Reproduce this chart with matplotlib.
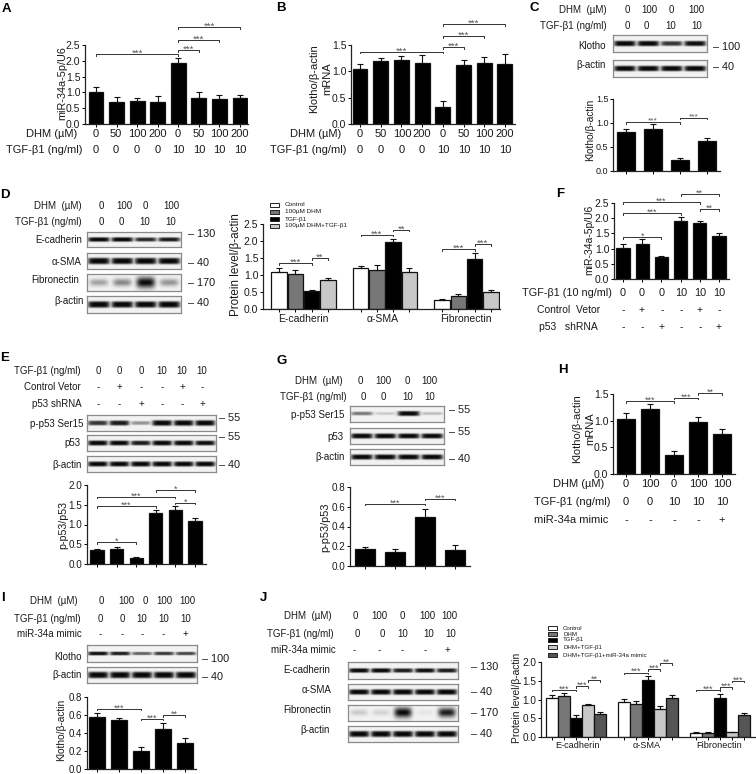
import numpy as np
import matplotlib
matplotlib.use('Agg')
import matplotlib.pyplot as plt
from matplotlib.patches import Rectangle

plt.rcParams['font.family'] = ['Liberation Sans', 'DejaVu Sans']

W = 756
H = 774

# bar values
a_vals = [1.0, 0.7, 0.72, 0.69, 1.92, 0.81, 0.8, 0.82]
a_errs = [0.16, 0.17, 0.11, 0.2, 0.17, 0.2, 0.11, 0.11]
b_vals = [1.05, 1.19, 1.22, 1.16, 0.33, 1.12, 1.15, 1.13]
b_errs = [0.09, 0.07, 0.08, 0.15, 0.1, 0.1, 0.13, 0.19]
c_vals = [0.82, 0.88, 0.22, 0.62]
c_errs = [0.05, 0.1, 0.06, 0.07]
d_vals = [1.08, 1.03, 0.52, 0.85, 1.22, 1.15, 1.97, 1.08, 0.26, 0.39, 1.48, 0.5]
d_errs = [0.12, 0.12, 0.03, 0.05, 0.05, 0.13, 0.1, 0.13, 0.03, 0.06, 0.17, 0.05]
e_vals = [0.35, 0.39, 0.15, 1.28, 1.37, 1.08]
e_errs = [0.02, 0.04, 0.02, 0.09, 0.1, 0.08]
f_vals = [1.02, 1.15, 0.72, 1.9, 1.84, 1.4]
f_errs = [0.13, 0.15, 0.04, 0.15, 0.06, 0.1]
g_vals = [0.17, 0.14, 0.5, 0.16]
g_errs = [0.02, 0.03, 0.08, 0.05]
h_vals = [1.03, 1.21, 0.35, 0.97, 0.75]
h_errs = [0.12, 0.1, 0.09, 0.09, 0.1]
i_vals = [0.58, 0.55, 0.2, 0.44, 0.29]
i_errs = [0.04, 0.02, 0.04, 0.07, 0.05]
j_vals = [1.05, 1.09, 0.5, 0.85, 0.62, 0.94, 0.88, 1.51, 0.76, 1.04, 0.12, 0.12, 1.05, 0.13, 0.58]
j_errs = [0.06, 0.08, 0.08, 0.02, 0.05, 0.08, 0.07, 0.12, 0.06, 0.08, 0.01, 0.01, 0.09, 0.01, 0.05]

# significance brackets: first bar, last bar, height, stars
a_sig = [(0, 4, 2.2, '***'), (4, 5, 2.34, '***'), (4, 6, 2.66, '***'), (4, 7, 3.07, '***')]
b_sig = [(0, 4, 1.37, '***'), (4, 5, 1.46, '***'), (4, 6, 1.67, '***'), (4, 7, 1.89, '***')]
c_sig = [(0, 2, 1.02, '***'), (2, 3, 1.11, '***')]
d_sig = [(0, 2, 1.35, '***'), (2, 3, 1.5, '**'), (5, 7, 2.19, '***'), (7, 8, 2.33, '**'),
         (10, 12, 1.76, '***'), (12, 13, 1.91, '***')]
e_sig = [(0, 2, 0.55, '*'), (0, 3, 1.47, '***'), (0, 4, 1.7, '***'), (3, 5, 1.87, '*'), (4, 5, 1.55, '*')]
f_sig = [(0, 2, 1.37, '*'), (0, 3, 2.17, '***'), (0, 4, 2.52, '***'), (3, 5, 2.79, '**'), (4, 5, 2.3, '**')]
g_sig = [(0, 2, 0.63, '***'), (2, 3, 0.68, '***')]
h_sig = [(0, 2, 1.36, '***'), (2, 3, 1.43, '***'), (3, 4, 1.51, '**')]
i_sig = [(0, 2, 0.67, '***'), (2, 3, 0.56, '***'), (3, 4, 0.6, '**')]
j_sig = [(0, 2, 1.26, '***'), (2, 3, 1.35, '***'), (3, 4, 1.52, '**'),
         (6, 8, 1.72, '***'), (8, 9, 1.81, '***'), (9, 10, 1.97, '**'),
         (12, 14, 1.26, '***'), (14, 15, 1.33, '***'), (15, 16, 1.5, '***')]

# label rows
dhm_long = ['0', '50', '100', '200', '0', '50', '100', '200']
tgf_long = ['0', '0', '0', '0', '10', '10', '10', '10']
dhm_4 = ['0', '100', '0', '100']
tgf_4 = ['0', '0', '10', '10']
tgf_6 = ['0', '0', '0', '10', '10', '10']
vec_6 = ['-', '+', '-', '-', '+', '-']
sh_6 = ['-', '-', '+', '-', '-', '+']
dhm_5 = ['0', '100', '0', '100', '100']
tgf_5 = ['0', '0', '10', '10', '10']
mim_5 = ['-', '-', '-', '-', '+']
groups = ['E-cadherin', 'α-SMA', 'Fibronectin']
d_legend = ['Control', '100µM DHM', 'TGF-β1', '100µM DHM+TGF-β1']
j_legend = ['Control', 'DHM', 'TGF-β1', 'DHM+TGF-β1', 'DHM+TGF-β1+miR-34a mimic']
d_colors = ['white', '#777777', 'black', '#c8c8c8']
j_colors = ['white', '#777777', 'black', '#c8c8c8', '#555555']

# blot band strength per lane
c_klotho = [0.95, 0.9, 0.7, 0.85]
c_actin = [0.95, 0.95, 0.95, 0.95]
d_ecad = [0.9, 0.9, 0.75, 0.8]
d_sma = [1.0, 0.95, 1.0, 0.95]
d_fib = [0.3, 0.4, 1.0, 0.35]
d_actin = [1.0, 0.95, 0.95, 1.0]
e_pp53 = [0.7, 0.8, 0.35, 1.0, 1.0, 1.0]
e_p53 = [0.95, 0.9, 0.8, 0.95, 0.95, 0.85]
e_actin = [0.95, 0.95, 1.0, 1.0, 0.95, 0.95]
g_pp53 = [0.45, 0.15, 0.95, 0.2]
g_p53 = [1.0, 0.95, 0.95, 0.95]
g_actin = [1.0, 1.0, 1.0, 1.0]
i_klotho = [0.85, 0.8, 0.55, 0.7, 0.65]
i_actin = [1.0, 1.0, 1.0, 1.0, 1.0]
j_ecad = [0.9, 0.9, 0.8, 0.85, 0.8]
j_sma = [0.9, 0.95, 1.0, 0.95, 1.0]
j_fib = [0.15, 0.12, 1.0, 0.05, 0.8]
j_actin = [1.0, 1.0, 1.0, 1.0, 1.0]

fig = plt.figure(figsize=(W / 100, H / 100), dpi=100)
over = fig.add_axes([0, 0, 1, 1], zorder=5)
over.set_xlim(0, W)
over.set_ylim(H, 0)
over.axis('off')


def txt(x, y, s, ha='center', size=7, **kw):
    over.text(x, y, s, ha=ha, va='center', fontsize=size, color=kw.pop('color', '#1a1a1a'), **kw)


def row(label, right, y, xs, vals, size=7):
    txt(right, y, label, ha='right', size=size)
    for x, v in zip(xs, vals):
        txt(x, y, v, size=size)


def bars(box, x0, step, vals, errs, ymax, yticks, sig, pos=None, colors=None, bar_w=0.72,
         tick=7.5, star=6.8):
    # box is left, right, top, bottom in pixels
    l, r, t, b = box
    ax = fig.add_axes([l / W, 1 - b / H, (r - l) / W, (b - t) / H], facecolor='none')
    if pos is None:
        pos = np.arange(len(vals))
    ax.set_xlim((l - x0) / step, (r - x0) / step)
    ax.set_ylim(0, ymax)
    cols = colors if colors else ['black'] * len(vals)
    ax.bar(pos, vals, bar_w, color=cols, edgecolor='#111111', linewidth=0.9,
           yerr=[np.zeros(len(errs)), errs],
           error_kw=dict(ecolor='#111111', elinewidth=0.8, capsize=2.4, capthick=0.8))
    for s in ['top', 'right']:
        ax.spines[s].set_visible(False)
    for s in ['left', 'bottom']:
        ax.spines[s].set_linewidth(0.9)
        ax.spines[s].set_color('#222222')
    ax.set_yticks(yticks)
    ax.set_yticklabels(['%.1f' % v for v in yticks], fontsize=tick, color='#1a1a1a')
    ax.tick_params(axis='y', length=2.5, width=0.7, pad=0.8)
    ax.set_xticks(pos)
    ax.set_xticklabels([])
    ax.tick_params(axis='x', length=2, width=0.7)
    d = 1.6 * ymax / (b - t)
    # bars are indexed in layout slots, so gaps between groups count
    for xa, xb, h, s in sig:
        ax.plot([xa, xa, xb, xb], [h - d, h, h, h - d], color='#333333', lw=0.7, clip_on=False)
        ax.text((xa + xb) / 2, h + 0.5 * d, s, ha='center', va='center', fontsize=star,
                color='#555555', clip_on=False)
    return ax


def blot(box, levels, sigma=2.6, soft=False):
    l, r, t, b = box
    ax = fig.add_axes([l / W, 1 - b / H, (r - l) / W, (b - t) / H])
    nx = (r - l) * 3
    ny = (b - t) * 3
    xx, yy = np.meshgrid(np.linspace(0, 1, nx), np.linspace(0, 1, ny))
    n = len(levels)
    dark = np.zeros((ny, nx))
    for k, lv in enumerate(levels):
        cx = (k + 0.5) / n
        wx = 0.47 / n
        sy = sigma * (0.55 + 0.55 * lv) / (b - t)
        if soft:
            shape = np.exp(-((xx - cx) / (wx * 0.85)) ** 4) * np.exp(-((yy - 0.5) / sy) ** 2)
        else:
            shape = np.exp(-((xx - cx) / wx) ** 6) * np.exp(-((yy - 0.5) / sy) ** 4)
        dark = np.maximum(dark, shape * min(1, lv * 1.15))
    img = 0.95 * (1 - dark) + 0.03 * dark
    ax.imshow(img, cmap='gray', vmin=0, vmax=1, aspect='auto', interpolation='bilinear')
    ax.set_xticks([])
    ax.set_yticks([])
    for s in ax.spines.values():
        s.set_color('#8a8a8a')
        s.set_linewidth(0.9)


def mw(x, y, s, size=7.8):
    txt(x, y, '– ' + s, ha='left', size=size)


def legend(x, ys, names, colors, size=4.6):
    for y, n, c in zip(ys, names, colors):
        over.add_patch(Rectangle((x, y - 2.2), 9, 4.4, facecolor=c, edgecolor='#222222', lw=0.7))
        txt(x + 15, y, n, ha='left', size=size)


# panel letters
for s, x, y in [('A', 6, 9), ('B', 281, 8), ('C', 534, 8), ('D', 5, 195), ('E', 5, 358),
                ('F', 560, 194), ('G', 282, 361), ('H', 563, 370), ('I', 3, 598), ('J', 263, 598)]:
    txt(x, y, s, size=9.5, fontweight='bold', color='black')

# A
a_x = [96, 116, 137, 158, 178, 199, 219, 240]
bars((85, 248, 45, 124), 96, 20.57, a_vals, a_errs, 2.5, [0, 0.5, 1, 1.5, 2, 2.5], a_sig)
row('DHM (µM)', 77, 134, a_x, dhm_long, size=8)
row('TGF-β1 (ng/ml)', 82, 150, a_x, tgf_long, size=8)
txt(62, 83, 'miR-34a-5p/U6', size=7.8, rotation=90)

# B
b_x = [360, 381, 402, 422, 443, 464, 484, 505]
bars((351, 515, 45, 124), 360, 20.7, b_vals, b_errs, 1.5, [0, 0.5, 1, 1.5], b_sig)
row('DHM (µM)', 341, 134, b_x, dhm_long, size=8)
row('TGF-β1 (ng/ml)', 347, 150, b_x, tgf_long, size=8)
txt(314, 79, 'Klotho/β-actin', size=8, rotation=90)
txt(327, 79, 'mRNA', size=8, rotation=90)

# C
row('DHM  (µM)', 607, 10, [627, 649, 671, 696], dhm_4)
row('TGF-β1 (ng/ml)', 607, 26, [627, 646, 671, 697], tgf_4)
blot((613, 707, 35, 52), c_klotho)
blot((613, 707, 60, 77), c_actin)
txt(606, 46, 'Klotho', ha='right')
txt(606, 65, 'β-actin', ha='right')
mw(713, 47, '100')
mw(713, 67, '40')
bars((613, 720, 99, 171), 626, 27, c_vals, c_errs, 1.5, [0, 0.5, 1, 1.5], c_sig, bar_w=0.66, tick=6.5, star=6)
txt(590, 130, 'Klotho/β-actin', size=7.3, rotation=90)

# D
row('DHM  (µM)', 82, 206, [101, 124, 145, 171], dhm_4)
row('TGF-β1 (ng/ml)', 82, 222, [101, 121, 145, 171], tgf_4)
blot((87, 181, 232, 247), d_ecad, sigma=2.2)
blot((87, 181, 253, 269), d_sma, sigma=3.0)
blot((87, 181, 274, 291), d_fib, sigma=5.0, soft=True)
blot((87, 181, 296, 313), d_actin, sigma=3.0)
txt(82, 240, 'E-cadherin', ha='right')
txt(82, 262, 'α-SMA', ha='right')
txt(79, 280, 'Fibronectin', ha='right')
txt(84, 301, 'β-actin', ha='right')
mw(188, 234, '130')
mw(188, 263, '40')
mw(188, 283, '170')
mw(188, 303, '40')
d_pos = [g * 5 + k for g in range(3) for k in range(4)]
bars((263, 500, 224, 309), 279, 16.3, d_vals, d_errs, 2.5, [0, 0.5, 1, 1.5, 2, 2.5], d_sig, pos=d_pos,
     colors=d_colors * 3, bar_w=0.95)
txt(236, 265, 'Protein level/β-actin', size=8.4, rotation=90)
for s, x in zip(groups, [303, 383, 466]):
    txt(x, 319, s, size=7.5)
legend(270, [205, 212, 219, 226], d_legend, d_colors)

# E
e_x = [98, 119, 141, 162, 182, 202]
row('TGF-β1 (ng/ml)', 81, 371, e_x, tgf_6)
row('Control Vetor', 81, 387, e_x, vec_6)
row('p53 shRNA', 82, 404, e_x, sh_6)
blot((87, 216, 415, 431), e_pp53)
blot((87, 216, 435, 451), e_p53, sigma=2.4)
blot((87, 216, 456, 472), e_actin, sigma=2.4)
txt(83, 424, 'p-p53 Ser15', ha='right')
txt(81, 443, 'p53', ha='right')
txt(82, 465, 'β-actin', ha='right')
mw(219, 418, '55')
mw(219, 437, '55')
mw(219, 465, '40')
bars((87, 206, 485, 564), 97, 19.6, e_vals, e_errs, 2.0, [0, 0.5, 1, 1.5, 2], e_sig, bar_w=0.68, tick=7.1, star=6.5)
txt(63, 525, 'p-p53/p53', size=7.7, rotation=90)

# F
f_x = [623, 642, 662, 681, 700, 719]
bars((614, 729, 203, 279), 623, 19.2, f_vals, f_errs, 2.5, [0, 0.5, 1, 1.5, 2, 2.5], f_sig, bar_w=0.68, star=6.5)
row('TGF-β1 (10 ng/ml)', 612, 293, f_x, tgf_6, size=7.8)
row('Control  Vetor', 600, 310, f_x, vec_6, size=7.5)
row('p53   shRNA', 598, 327, f_x, sh_6, size=7.5)
txt(589, 240, 'miR-34a-5p/U6', size=7.5, rotation=90)

# G
row('DHM  (µM)', 343, 381, [360, 383, 407, 429], dhm_4)
row('TGF-β1 (ng/ml)', 347, 397, [363, 383, 408, 430], tgf_4)
blot((350, 444, 406, 422), g_pp53, sigma=2.2)
blot((350, 444, 428, 444), g_p53, sigma=2.4)
blot((350, 444, 449, 465), g_actin, sigma=2.4)
txt(344, 415, 'p-p53 Ser15', ha='right')
txt(344, 437, 'p53', ha='right')
txt(345, 457, 'β-actin', ha='right')
mw(449, 410, '55')
mw(449, 432, '55')
mw(449, 459, '40')
bars((350, 470, 487, 566), 365, 30, g_vals, g_errs, 0.8, [0, 0.2, 0.4, 0.6, 0.8], g_sig, bar_w=0.66, tick=7.1, star=6.5)
txt(325, 527, 'p-p53/p53', size=7.8, rotation=90)

# H
h_x = [626, 650, 674, 698, 722]
bars((613, 735, 394, 474), 626, 24, h_vals, h_errs, 1.5, [0, 0.5, 1, 1.5], h_sig, star=6.5)
row('DHM (µM)', 604, 484, h_x, dhm_5, size=8)
row('TGF-β1 (ng/ml)', 611, 502, h_x, tgf_5, size=8)
row('miR-34a mimic', 608, 520, h_x, mim_5, size=8)
txt(577, 429, 'Klotho/β-actin', size=8, rotation=90)
txt(590, 429, 'mRNA', size=8, rotation=90)

# I
row('DHM  (µM)', 78, 601, [101, 126, 145, 164, 187], dhm_5)
row('TGF-β1 (ng/ml)', 81, 619, [100, 122, 142, 164, 186], tgf_5)
row('miR-34a mimic', 82, 634, [100, 122, 142, 163, 185], mim_5)
blot((87, 197, 645, 662), i_klotho, sigma=1.9)
blot((87, 197, 667, 683), i_actin, sigma=3.0)
txt(82, 657, 'Klotho', ha='right')
txt(82, 675, 'β-actin', ha='right')
mw(202, 659, '100')
mw(202, 677, '40')
bars((87, 196, 697, 769), 97, 22, i_vals, i_errs, 0.8, [0, 0.2, 0.4, 0.6, 0.8], i_sig, tick=7, star=6.5)
txt(61, 730, 'Klotho/β-actin', size=7.3, rotation=90)

# J
row('DHM  (µM)', 332, 616, [355, 379, 402, 427, 449], dhm_5)
row('TGF-β1 (ng/ml)', 334, 634, [357, 382, 403, 429, 451], tgf_5)
row('miR-34a mimic', 336, 650, [354, 379, 402, 425, 447], mim_5)
blot((348, 458, 662, 679), j_ecad, sigma=2.2)
blot((348, 458, 684, 700), j_sma, sigma=2.6)
blot((348, 458, 705, 721), j_fib, sigma=4.5, soft=True)
blot((348, 458, 726, 742), j_actin, sigma=2.8)
txt(330, 670, 'E-cadherin', ha='right')
txt(331, 690, 'α-SMA', ha='right')
txt(331, 710, 'Fibronectin', ha='right')
txt(330, 730, 'β-actin', ha='right')
mw(471, 667, '130')
mw(471, 692, '40')
mw(471, 713, '170')
mw(471, 734, '40')
j_pos = [g * 6 + k for g in range(3) for k in range(5)]
bars((541, 755, 662, 737), 552, 12, j_vals, j_errs, 2.0, [0, 0.5, 1, 1.5, 2], j_sig, pos=j_pos,
     colors=j_colors * 3, bar_w=0.95, tick=7.2, star=6.5)
txt(517, 698, 'Protein level/β-actin', size=7.4, rotation=90)
for s, x in zip(groups, [577, 647, 719]):
    txt(x, 746, s, size=6.6)
legend(548, [628, 634, 640, 647, 655], j_legend, j_colors, size=4.4)

fig.savefig('out.png', dpi=100)
